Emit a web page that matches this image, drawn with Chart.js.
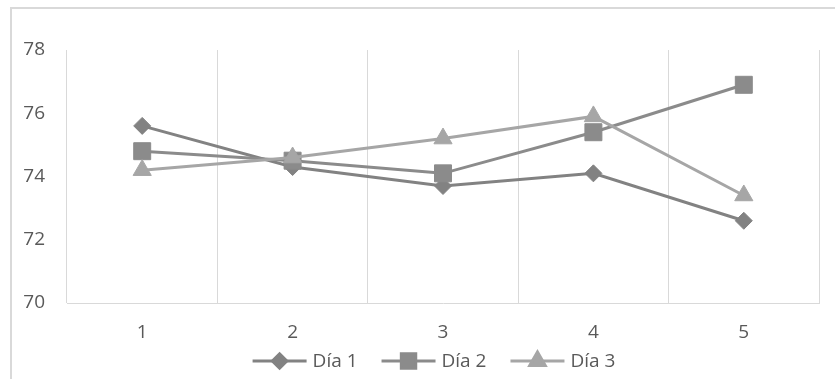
<!DOCTYPE html>
<html>
<head>
<meta charset="utf-8">
<script src="https://cdn.jsdelivr.net/npm/chart.js@4/dist/chart.umd.min.js"></script>
<style>
  html, body { margin: 0; padding: 0; background: #fff; }
  #wrap { width: 835px; height: 379px; position: relative; }
</style>
</head>
<body>
<div id="wrap"><canvas id="diasChart"></canvas></div>
<script>
const categories = ["1", "2", "3", "4", "5"];
const dia1 = [75.6, 74.3, 73.7, 74.1, 72.6];
const dia2 = [74.8, 74.5, 74.1, 75.4, 76.9];
const dia3 = [74.2, 74.6, 75.2, 75.9, 73.4];
const seriesNames = ["Día 1", "Día 2", "Día 3"];
const yTicks = [70, 72, 74, 76, 78];

const FONT = "'Open Sans', sans-serif";
const TEXT = "#595959";
const GRID = "#d9d9d9";

function series(label, data, color, style, radius, order) {
  return {
    label: label,
    data: data,
    borderColor: color,
    backgroundColor: color,
    borderWidth: 3,
    pointStyle: style,
    pointRadius: radius,
    pointHoverRadius: radius,
    pointBorderWidth: 1,
    pointBorderColor: color,
    pointBackgroundColor: color,
    tension: 0,
    order: order,
  };
}

// chart frame like an office chart area border
const frame = {
  id: "frame",
  beforeDraw(chart) {
    const c = chart.ctx;
    c.save();
    c.strokeStyle = GRID;
    c.lineWidth = 2;
    c.strokeRect(11, 8, chart.width + 50, chart.height + 50);
    c.restore();
  },
};

// legend with a line segment and marker for each series
const lineLegend = {
  id: "lineLegend",
  afterDraw(chart) {
    const c = chart.ctx;
    const sets = chart.data.datasets;
    const lineLen = 54, gap = 6, spacing = 24;
    c.save();
    c.font = "19px " + FONT;
    c.textBaseline = "middle";
    const widths = sets.map((d) => lineLen + gap + c.measureText(d.label).width);
    const total = widths.reduce((a, b) => a + b, 0) + spacing * (sets.length - 1);
    let x = 434 - total / 2;
    const y = 361;
    sets.forEach((d, i) => {
      c.strokeStyle = d.borderColor;
      c.lineWidth = 3;
      c.beginPath();
      c.moveTo(x, y);
      c.lineTo(x + lineLen, y);
      c.stroke();
      c.fillStyle = d.pointBackgroundColor;
      Chart.helpers.drawPoint(c, {
        pointStyle: d.pointStyle,
        radius: d.pointRadius * 0.85,
        rotation: 0,
        borderWidth: 1,
      }, x + lineLen / 2, y);
      c.fillStyle = TEXT;
      c.fillText(d.label, x + lineLen + gap, y + 1);
      x += widths[i] + spacing;
    });
    c.restore();
  },
};

new Chart(document.getElementById("diasChart").getContext("2d"), {
  type: "line",
  data: {
    labels: categories,
    datasets: [
      series(seriesNames[0], dia1, "#828282", "rectRot", 8.5, 3),
      series(seriesNames[1], dia2, "#8b8b8b", "rect", 12, 2),
      series(seriesNames[2], dia3, "#a6a6a6", "triangle", 10.5, 1),
    ],
  },
  options: {
    responsive: true,
    maintainAspectRatio: false,
    animation: false,
    layout: { padding: { top: 50, right: 16, bottom: 0, left: 0 } },
    plugins: {
      legend: { display: false },
      tooltip: { enabled: false },
    },
    scales: {
      x: {
        offset: true,
        grid: { offset: true, color: GRID, lineWidth: 1, drawTicks: false },
        border: { display: true, color: GRID, width: 1 },
        ticks: { color: TEXT, font: { family: FONT, size: 19 }, padding: 18 },
        afterFit(scale) { scale.height = 76; },
      },
      y: {
        min: 70,
        max: 78,
        grid: { display: false, drawTicks: false },
        border: { display: false },
        afterBuildTicks(scale) { scale.ticks = yTicks.map((v) => ({ value: v })); },
        ticks: { color: TEXT, font: { family: FONT, size: 19 }, padding: 22 },
        afterFit(scale) { scale.width = 67; },
      },
    },
  },
  plugins: [frame, lineLegend],
});
</script>
</body>
</html>
